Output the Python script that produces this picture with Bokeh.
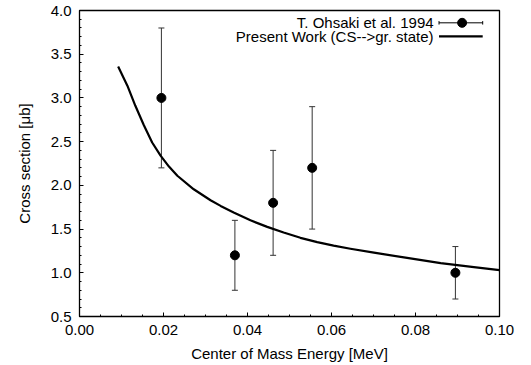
from bokeh.plotting import figure
from bokeh.models import (ColumnDataSource, Whisker, TeeHead, Label, Range1d,
                          SingleIntervalTicker, NumeralTickFormatter)
from bokeh.embed import file_html
from bokeh.resources import INLINE

# Experimental data: T. Ohsaki et al. 1994
exp_x = [0.0195, 0.0370, 0.0461, 0.0554, 0.0895]
exp_y = [3.0, 1.2, 1.8, 2.2, 1.0]
exp_lo = [2.2, 0.8, 1.2, 1.5, 0.7]
exp_hi = [3.8, 1.6, 2.4, 2.9, 1.3]

# Present work curve (CS-->gr. state)
curve_x = [0.0092, 0.0114, 0.0133, 0.0153, 0.0173, 0.0193, 0.0213, 0.0233,
           0.0272, 0.0312, 0.0336, 0.0367, 0.0407, 0.0447, 0.0486, 0.0526,
           0.0566, 0.0605, 0.0645, 0.0701, 0.0780, 0.0860, 0.0939, 0.1000]
curve_y = [3.36, 3.14, 2.91, 2.69, 2.49, 2.34, 2.215, 2.11,
           1.955, 1.83, 1.765, 1.69, 1.60, 1.525, 1.46, 1.40,
           1.35, 1.31, 1.275, 1.23, 1.17, 1.11, 1.065, 1.03]

legend_labels = ["T. Ohsaki et al. 1994", "Present Work (CS-->gr. state)"]

FONT = "Liberation Sans"
FS = "15px"

p = figure(width=531, height=365, output_backend="svg", toolbar_location=None,
           x_range=Range1d(0.0, 0.10), y_range=Range1d(0.5, 4.0),
           min_border_left=79, min_border_right=32, min_border_top=10,
           min_border_bottom=49)
p.background_fill_color = "white"
p.border_fill_color = "white"
p.outline_line_color = "black"
p.outline_line_width = 1.3
p.xgrid.visible = False
p.ygrid.visible = False

for ax in (p.xaxis[0], p.yaxis[0]):
    ax.major_tick_in = 4
    ax.major_tick_out = 0
    ax.minor_tick_in = 2
    ax.minor_tick_out = 0
    ax.axis_line_color = "black"
    ax.major_tick_line_color = "black"
    ax.minor_tick_line_color = "black"
    ax.major_label_text_font = FONT
    ax.major_label_text_font_size = FS
    ax.major_label_text_color = "black"
    ax.axis_label_text_font = FONT
    ax.axis_label_text_font_size = FS
    ax.axis_label_text_font_style = "normal"
    ax.axis_label_text_color = "black"

p.xaxis.ticker = SingleIntervalTicker(interval=0.02, num_minor_ticks=4)
p.xaxis.formatter = NumeralTickFormatter(format="0.00")
p.yaxis.ticker = SingleIntervalTicker(interval=0.5, num_minor_ticks=5)
p.yaxis.formatter = NumeralTickFormatter(format="0.0")
p.xaxis.axis_label = "Center of Mass Energy [MeV]"
p.yaxis.axis_label = "Cross section [μb]"
p.xaxis.major_label_standoff = 8
p.yaxis.major_label_standoff = 8
p.xaxis.axis_label_standoff = 7
p.yaxis.axis_label_standoff = 15

# curve
p.line(curve_x, curve_y, line_color="black", line_width=2.2, line_join="round")

# error bars
src = ColumnDataSource(dict(x=exp_x, y=exp_y, lo=exp_lo, hi=exp_hi))
w = Whisker(source=src, base="x", lower="lo", upper="hi", dimension="height",
            line_color="#333333", line_width=1,
            upper_head=TeeHead(size=6, line_color="#333333", line_width=1),
            lower_head=TeeHead(size=6, line_color="#333333", line_width=1))
p.add_layout(w)
p.scatter("x", "y", source=src, size=9, marker="circle", fill_color="black",
          line_color="black")

# legend (gnuplot style: text right-aligned, sample on the right)
lx_text = 0.0843
lx0, lx1, lxm = 0.0856, 0.0960, 0.0911
ly = [3.859, 3.703]
for lab, yy in zip(legend_labels, ly):
    p.add_layout(Label(x=lx_text, y=yy, text=lab, text_align="right",
                       text_baseline="middle", text_font=FONT,
                       text_font_size=FS, text_color="black"))
p.segment(x0=[lx0], y0=[ly[0]], x1=[lx1], y1=[ly[0]], line_color="black", line_width=1)
p.segment(x0=[lx0, lx1], y0=[ly[0] - 0.02, ly[0] - 0.02],
          x1=[lx0, lx1], y1=[ly[0] + 0.02, ly[0] + 0.02],
          line_color="black", line_width=1)
p.scatter(x=[lxm], y=[ly[0]], size=9, marker="circle", fill_color="black",
          line_color="black")
p.segment(x0=[lx0], y0=[ly[1]], x1=[lx1], y1=[ly[1]], line_color="black", line_width=2.2)

open("out.html", "w").write(file_html(p, INLINE))
